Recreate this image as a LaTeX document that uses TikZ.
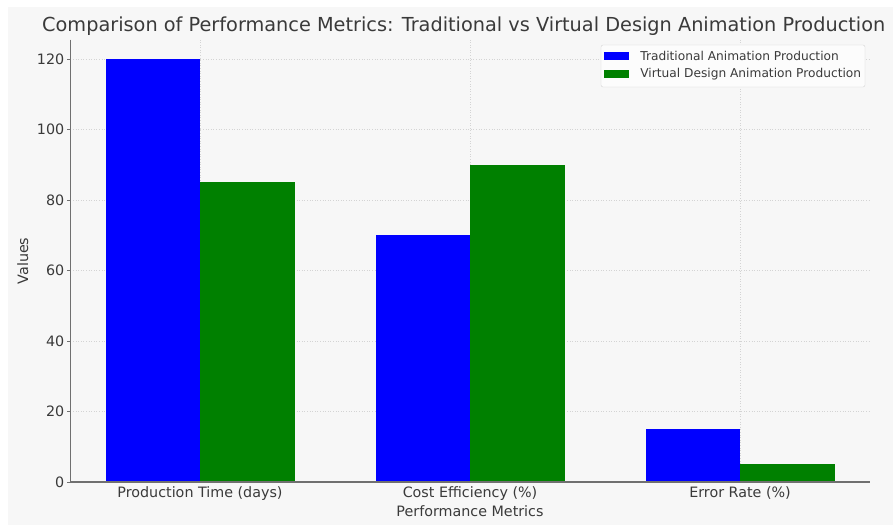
\documentclass[tikz,border=0pt]{standalone}
\usepackage{fontspec}
\setmainfont{DejaVu Sans}
\usetikzlibrary{positioning}
\definecolor{PlotBg}{HTML}{F7F7F7}
\definecolor{BarBlue}{HTML}{0000FF}
\definecolor{BarGreen}{HTML}{008000}
\definecolor{SpineGray}{HTML}{707070}
\definecolor{GridGray}{HTML}{D4D4D4}
\definecolor{TextGray}{HTML}{3A3A3A}

\begin{document}
\begin{tikzpicture}[
            x=1pt, y=-1pt,
            gridline/.style={GridGray, line width=0.6pt, dotted},
            spine/.style={SpineGray, line width=1.4pt},
            ticklbl/.style={text=TextGray, font=\fontsize{14.3}{16}\selectfont, inner sep=0pt},
            axlbl/.style={text=TextGray, font=\fontsize{14.3}{16}\selectfont, inner sep=0pt},
            patch/.style={minimum width=25pt, minimum height=8pt, inner sep=0pt},
            legtext/.style={text=TextGray, font=\fontsize{12.2}{14}\selectfont, inner sep=0pt}
        ]
            \useasboundingbox (0,0) rectangle (893,525);
            \fill[white] (0,0) rectangle (893,525);
            \fill[PlotBg] (8,7) rectangle (893,525);

            % grid, bars and ticks in data units
            \begin{scope}[shift={(200,482)}, x=270pt, y=3.525pt]
                \foreach \v in {20,40,...,120}
                    \draw[gridline] (-0.48,\v) -- (2.48,\v);
                \foreach \i in {0,1,2}
                    \draw[gridline] (\i,0) -- (\i,125.5);
                \foreach \i/\t/\w in {0/120/85, 1/70/90, 2/15/5} {
                    \fill[BarBlue] (\i-0.35,0) rectangle (\i,\t);
                    \fill[BarGreen] (\i,0) rectangle (\i+0.35,\w);
                }
                \foreach \v in {0,20,...,120} {
                    \draw[SpineGray, line width=0.8pt] (-0.48,\v) -- ++(-3pt,0);
                    \node[ticklbl, anchor=east] (ytick\v) at ([xshift=-6pt]-0.48,\v) {\v};
                }
                \draw[spine] (-0.48,125.5) -- (-0.48,0) -- (2.48,0);
            \end{scope}

            \node[ticklbl, anchor=base] (xtick0) at (200,497) {Production Time (days)};
            \node[ticklbl, anchor=base] (xtick1) at (470,497) {Cost Efficiency (\%)};
            \node[ticklbl, anchor=base] (xtick2) at (740,497) {Error Rate (\%)};

            \node[axlbl, anchor=base] (xlabel) at (470,516.5) {Performance Metrics};
            \node[axlbl, rotate=90, anchor=base] (ylabel) at (28,261) {Values};

            \node[anchor=base west, inner sep=0pt, text=TextGray, font=\fontsize{19.3}{22}\selectfont] (title) at (42,31.5)
                {Comparison of Performance Metrics: Traditional vs Virtual Design Animation Production};

            % legend
            \draw[GridGray, fill=white!60!PlotBg, rounded corners=2pt] (601,45) rectangle (865,87);
            \node[patch, fill=BarBlue] (tradpatch) at (616.5,56) {};
            \node[legtext, anchor=west, right=11pt of tradpatch] (tradlbl) {Traditional Animation Production};
            \node[patch, fill=BarGreen] (virtpatch) at (616.5,74) {};
            \node[legtext, anchor=west, right=11pt of virtpatch] (virtlbl) {Virtual Design Animation Production};
        \end{tikzpicture}
\end{document}
